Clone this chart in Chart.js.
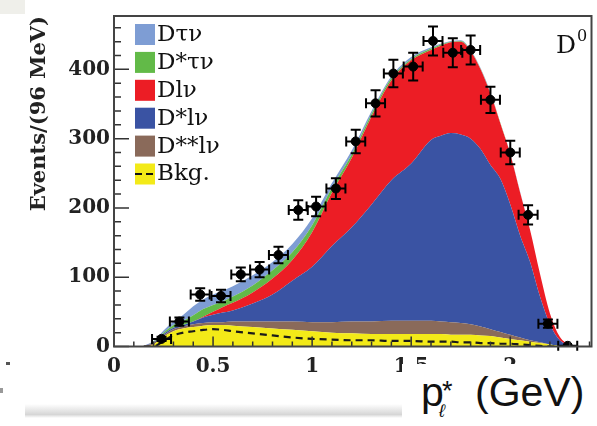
<!DOCTYPE html>
<html>
<head>
<meta charset="utf-8">
<title>D0 lepton momentum</title>
<script src="https://cdn.jsdelivr.net/npm/chart.js@4.4.1/dist/chart.umd.min.js"></script>
<style>
  body { margin: 0; background: #fff; }
  #wrap { position: relative; width: 597px; height: 426px; overflow: hidden; }
  #myChart { position: absolute; left: 0; top: 0; }
  #corner { position: absolute; left: 0; top: 0; width: 25px; height: 14px; background: #efefea; }
  #shadow { position: absolute; left: 25px; top: 404px; width: 377px; height: 14px;
    background: linear-gradient(#fff, #d6d6d6 75%, #fff); }
  #xtitle { position: absolute; left: 402px; top: 364px; width: 195px; height: 62px; background: #fff;
    font-family: "Liberation Sans", Arial, sans-serif; color: #111; }
  #xtitle span { position: absolute; white-space: nowrap; }
  .dot { position: absolute; background: #555; }
</style>
</head>
<body>
<div id="wrap">
  <canvas id="myChart" width="597" height="426"></canvas>
  <div id="corner"></div>
  <div id="shadow"></div>
  <div class="dot" style="left:6px;top:362px;width:4px;height:3px"></div>
  <div class="dot" style="left:0;top:388px;width:3px;height:5px;background:#999"></div>
  <div id="xtitle">
    <span style="left:19px;top:8px;font-size:41px;line-height:41px">p</span>
    <span style="left:37px;top:38px;font-size:18px;line-height:18px;font-style:italic">ℓ</span>
    <span style="left:40px;top:14px;font-size:27px;line-height:27px">*</span>
    <span style="left:73px;top:8px;font-size:41px;line-height:41px">(GeV)</span>
  </div>
</div>
<script>
'use strict'

// data points : bin centre (GeV), events, error
const ptsX = [0.24, 0.33, 0.435, 0.54, 0.64, 0.735, 0.83, 0.93, 1.02, 1.12, 1.22, 1.32, 1.41, 1.51, 1.61, 1.71, 1.80, 1.90, 2.00, 2.09, 2.19, 2.29];
const ptsY = [11, 36, 75, 73, 104, 111, 132, 197, 202, 228, 296, 351, 394, 404, 441, 424, 428, 356, 280, 190, 33, 1];
const ptsErr = [3, 6, 9, 9, 10, 11, 12, 14, 14, 15, 17, 19, 20, 20, 21, 21, 21, 19, 17, 14, 6, 1];
const binHalf = 0.048;

// fit components (stacked, bottom to top)
const gridX = [0.15, 0.2, 0.25, 0.3, 0.35, 0.4, 0.45, 0.5, 0.55, 0.6, 0.7, 0.8, 0.9, 1.0, 1.1, 1.2, 1.3, 1.4, 1.5, 1.6, 1.65, 1.7, 1.75, 1.8, 1.85, 1.9, 1.95, 2.0, 2.05, 2.1, 2.15, 2.2, 2.25, 2.3, 2.35];
const bkg = [0, 3, 14, 22, 26, 28, 30, 31, 31, 30, 28, 26, 24, 22, 20, 19, 18, 18, 18, 18, 18, 17, 17, 17, 16, 15, 13, 11, 9, 7, 5, 3, 1, 0, 0];
const dssLnu = [1, 2, 2, 3, 3, 4, 4, 4, 4, 6, 8, 10, 12, 13, 15, 17, 18, 19, 19, 19, 18, 18, 17, 15, 13, 10, 8, 6, 4, 2, 1, 0, 0, 0, 0];
const dsLnu = [0, 1, 2, 2, 2, 4, 8, 11, 14, 16, 26, 39, 59, 80, 110, 136, 169, 203, 227, 261, 268, 273, 272, 268, 256, 237, 221, 188, 147, 113, 66, 29, 8, 2, 0];
const dLnu = [0, 0, 0, 0, 0, 0, 1, 4, 8, 11, 16, 23, 30, 50, 77, 100, 127, 144, 149, 130, 130, 131, 134, 126, 115, 103, 80, 73, 62, 46, 33, 16, 5, 1, 0];
const dsTauNu = [0, 1, 2, 4, 6, 9, 11, 10, 8, 9, 10, 12, 11, 10, 7, 5, 4, 3, 2, 2, 2, 1, 1, 1, 1, 1, 1, 0, 0, 0, 0, 0, 0, 0, 0];
const dTauNu = [0, 1, 3, 5, 9, 13, 14, 15, 16, 15, 15, 12, 12, 10, 7, 6, 4, 3, 3, 2, 1, 1, 1, 1, 1, 1, 0, 1, 1, 0, 0, 0, 0, 0, 0];
const bkgDash = [0, 0, 8, 16, 20, 22, 24, 25, 24, 22, 19, 16, 13, 11, 10, 9, 9, 8, 8, 7, 7, 7, 6, 6, 5, 5, 4, 4, 3, 2, 1, 0, 0, 0, 0];

const legendLabels = ['Dτν', 'D*τν', 'Dlν', 'D*lν', 'D**lν', 'Bkg.'];
const xTicks = [0, 0.5, 1, 1.5, 2];
const yTicks = [0, 100, 200, 300, 400];
const yTitle = 'Events/(96 MeV)';

const serif = '"DejaVu Serif", "Liberation Serif", serif';

// bottom to top
const stackSeries = [bkg, dssLnu, dsLnu, dLnu, dsTauNu, dTauNu];
const stackColors = ['#f3ea18', '#8a6a5a', '#3a53a3', '#ec1d25', '#62ba48', '#7e9dd4'];

function toPoints(xs, ys) {
  return xs.map((x, i) => ({ x: x, y: ys[i] }));
}

const datasets = stackSeries.map((arr, i) => ({
  type: 'line',
  data: toPoints(gridX, arr),
  backgroundColor: stackColors[i],
  borderWidth: 0,
  pointRadius: 0,
  fill: i === 0 ? 'origin' : '-1',
  cubicInterpolationMode: 'monotone',
  order: 0
}));

datasets.push({
  type: 'line',
  stack: 'dash',
  data: toPoints(gridX, bkgDash),
  borderColor: '#1a1a1a',
  borderWidth: 2.2,
  borderDash: [7, 5],
  pointRadius: 0,
  fill: false,
  cubicInterpolationMode: 'monotone',
  order: -1
});

datasets.push({
  type: 'scatter',
  stack: 'pts',
  data: toPoints(ptsX, ptsY),
  backgroundColor: '#000',
  borderColor: '#000',
  pointRadius: 4.5,
  order: -2
});

// frame, inner ticks, error bars, legend, labels
const decor = {
  id: 'decor',
  afterDatasetsDraw(chart) {
    const { ctx, scales: { x, y } } = chart;
    ctx.save();
    ctx.strokeStyle = '#000';
    ctx.lineWidth = 2;
    const cap = 5;
    for (let i = 0; i < ptsX.length; i++) {
      const px = x.getPixelForValue(ptsX[i]);
      const py = y.getPixelForValue(ptsY[i]);
      const x0 = x.getPixelForValue(ptsX[i] - binHalf);
      const x1 = x.getPixelForValue(ptsX[i] + binHalf);
      const y0 = y.getPixelForValue(Math.max(0, ptsY[i] - ptsErr[i]));
      const y1 = y.getPixelForValue(ptsY[i] + ptsErr[i]);
      ctx.beginPath();
      ctx.moveTo(x0, py); ctx.lineTo(x1, py);
      ctx.moveTo(x0, py - cap); ctx.lineTo(x0, py + cap);
      ctx.moveTo(x1, py - cap); ctx.lineTo(x1, py + cap);
      if (y0 - y1 > 3) {
        ctx.moveTo(px, y0); ctx.lineTo(px, y1);
        ctx.moveTo(px - cap, y0); ctx.lineTo(px + cap, y0);
        ctx.moveTo(px - cap, y1); ctx.lineTo(px + cap, y1);
      }
      ctx.stroke();
    }
    ctx.restore();
  },
  afterDraw(chart) {
    const { ctx, chartArea: a, scales: { x, y } } = chart;
    ctx.save();

    // ticks pointing inwards
    ctx.strokeStyle = '#333';
    ctx.lineWidth = 1.5;
    ctx.beginPath();
    for (let v = 0; v <= 470; v += 20) {
      const py = y.getPixelForValue(v);
      const len = yTicks.includes(v) ? 15 : 7;
      ctx.moveTo(a.left, py); ctx.lineTo(a.left + len, py);
    }
    for (let k = 0; k <= 24; k++) {
      const px = x.getPixelForValue(k / 10);
      const len = k % 5 === 0 ? 10 : 5;
      ctx.moveTo(px, a.bottom); ctx.lineTo(px, a.bottom - len);
    }
    ctx.stroke();

    // frame
    ctx.strokeStyle = '#444';
    ctx.lineWidth = 2;
    ctx.strokeRect(a.left, a.top, a.right - a.left, a.bottom - a.top);

    // legend
    ctx.font = '23px ' + serif;
    ctx.textBaseline = 'middle';
    for (let i = 0; i < legendLabels.length; i++) {
      const by = a.top + 8 + i * 27.9;
      ctx.fillStyle = stackColors[stackColors.length - 1 - i];
      ctx.fillRect(a.left + 21, by, 20, 21);
      if (i === legendLabels.length - 1) {
        ctx.strokeStyle = '#111';
        ctx.lineWidth = 2;
        ctx.setLineDash([7, 4]);
        ctx.beginPath();
        ctx.moveTo(a.left + 21, by + 10.5); ctx.lineTo(a.left + 41, by + 10.5);
        ctx.stroke();
        ctx.setLineDash([]);
      }
      ctx.fillStyle = '#111';
      ctx.fillText(legendLabels[i], a.left + 43, by + 11);
    }

    // D0 label
    ctx.textBaseline = 'alphabetic';
    ctx.font = '25px ' + serif;
    ctx.fillText('D', 556, 53);
    ctx.font = '16px ' + serif;
    ctx.fillText('0', 577, 41);

    // y title, end aligned to the top of the frame
    ctx.translate(40, a.top);
    ctx.rotate(-Math.PI / 2);
    ctx.textAlign = 'right';
    ctx.textBaseline = 'middle';
    ctx.font = 'bold 21px ' + serif;
    ctx.fillStyle = '#222';
    ctx.fillText(yTitle, 0, 0);

    ctx.restore();
  }
};

const ctx1 = document.getElementById('myChart');

new Chart(ctx1, {
  type: 'line',
  data: { datasets: datasets },
  options: {
    responsive: false,
    animation: false,
    layout: { padding: { left: 0, right: 2, top: 15, bottom: 0 } },
    plugins: {
      legend: { display: false },
      tooltip: { enabled: false }
    },
    scales: {
      x: {
        type: 'linear',
        min: 0,
        max: 2.41,
        grid: { display: false, drawTicks: false },
        border: { display: false },
        ticks: {
          font: { family: serif, size: 20, weight: 'bold' },
          color: '#222',
          padding: 8,
          callback: (v) => String(v)
        },
        afterBuildTicks: (scale) => { scale.ticks = xTicks.map(v => ({ value: v })); },
        afterFit: (scale) => { scale.height = 79.5; }
      },
      y: {
        min: 0,
        max: 477,
        stacked: true,
        grid: { display: false, drawTicks: false },
        border: { display: false },
        ticks: {
          font: { family: serif, size: 20, weight: 'bold' },
          color: '#222',
          padding: 4,
          callback: (v) => String(v)
        },
        afterBuildTicks: (scale) => { scale.ticks = yTicks.map(v => ({ value: v })); },
        afterFit: (scale) => { scale.width = 114; }
      }
    }
  },
  plugins: [decor]
});
</script>
</body>
</html>
